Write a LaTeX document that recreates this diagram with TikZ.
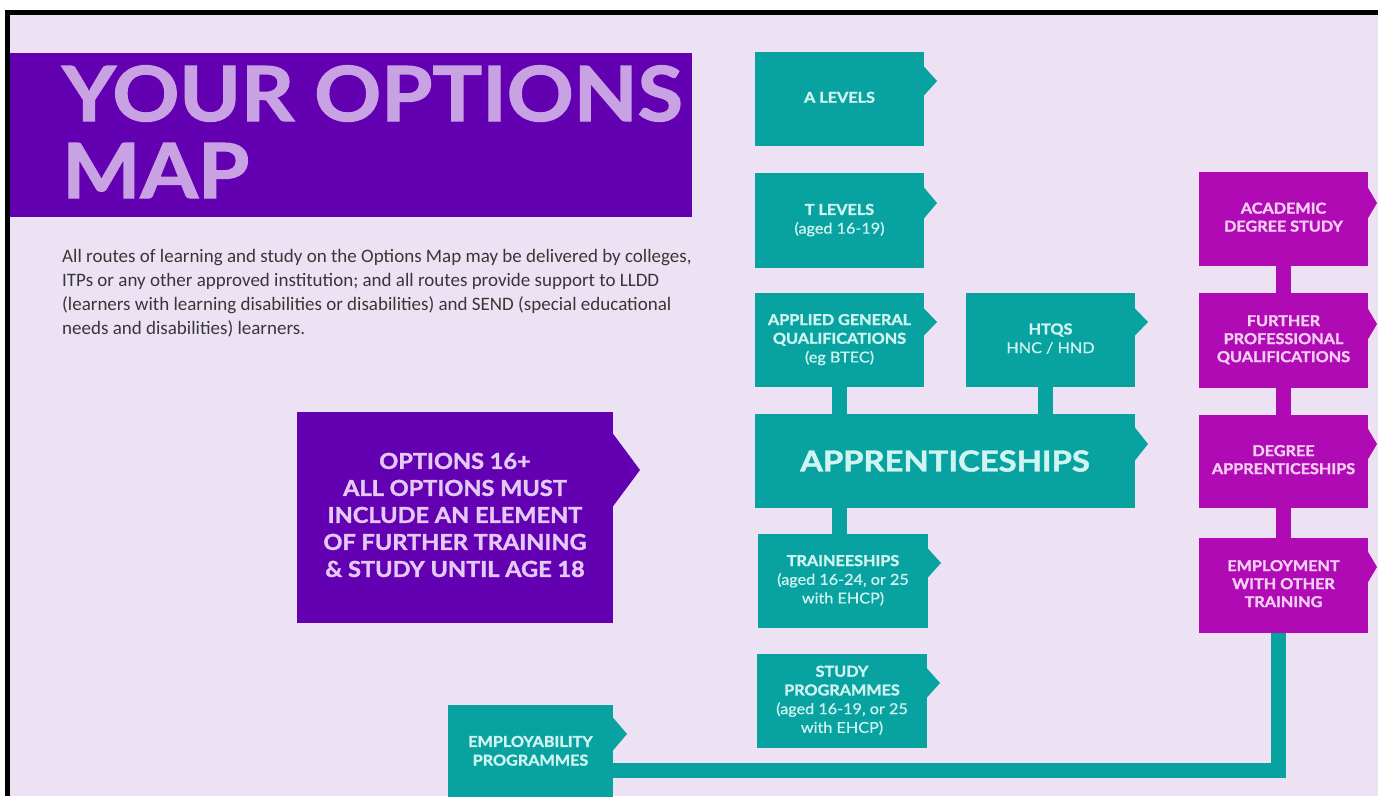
\documentclass[tikz,border=0pt]{standalone}
\usepackage{fontspec}
\setmainfont{Lato}
\newfontfamily\heavy{Lato}[BoldFeatures={FakeBold=1.5},UprightFeatures={FakeBold=0.6}]
\newfontfamily\calib{Carlito}
\definecolor{bg}{RGB}{236,226,244}
\definecolor{tealc}{RGB}{8,163,160}
\definecolor{tealtxt}{RGB}{208,244,241}
\definecolor{magc}{RGB}{176,10,180}
\definecolor{magtxt}{RGB}{246,206,243}
\definecolor{purp}{RGB}{99,0,178}
\definecolor{purptxt}{RGB}{200,162,226}
\definecolor{opttxt}{RGB}{228,200,245}
\definecolor{bodytxt}{RGB}{55,55,55}
% notch: colour, node, offset from top, half height, depth
\newcommand\notch[5]{\fill[#1] ([xshift=-0.5pt,yshift=-#3pt]#2.north east) -- ++(#5.5,#4) -- ++(-#5.5,#4) -- cycle;}
% horizontally stretched centred lines
\newcommand\sx[2]{\scalebox{#1}[1]{\begin{tabular}{@{}c@{}}#2\end{tabular}}}
\newcommand\lbl[1]{\sx{1.08}{#1}}
\newcommand\lite[1]{{\mdseries #1}}
\tikzset{
  boxbase/.style={inner sep=0pt, outer sep=0pt, align=center},
  tealbox/.style={boxbase, fill=tealc, text=tealtxt, font=\heavy\fontsize{15}{18.7}\selectfont\bfseries},
  magbox/.style={boxbase, fill=magc, text=magtxt, font=\heavy\fontsize{15}{18}\selectfont\bfseries},
  tealbar/.style={draw=tealc, line width=15pt},
  magbar/.style={draw=magc, line width=15pt},
  titletxt/.style={text=purptxt, font=\heavy\fontsize{76}{76}\selectfont\bfseries, inner sep=0pt, anchor=base west},
}
\begin{document}
\begin{tikzpicture}[x=1pt,y=-1pt]
\useasboundingbox (0,0) rectangle (1378,796);
\fill[white] (0,0) rectangle (1378,796);
\fill[black] (5,10) rectangle (1378,796);
\fill[bg] (10,15) rectangle (1378,796);

% title
\node[boxbase, fill=purp, minimum width=682pt, minimum height=164pt] (title) at (351,135) {};
\node[titletxt] (t1) at (62,121) {\scalebox{1.09}[1]{YOUR OPTIONS}};
\node[titletxt] (t2) at (62,198) {\scalebox{1.09}[1]{MAP}};

% paragraph
\node[anchor=north west, inner sep=0pt, align=left, text=bodytxt,
      font=\calib\fontsize{19}{24}\selectfont] (para) at (62,249)
{All routes of learning and study on the Options Map may be delivered by colleges,\\
ITPs or any other approved institution; and all routes provide support to LLDD\\
(learners with learning disabilities or disabilities) and SEND (special educational\\
needs and disabilities) learners.};

% options 16+
\node[boxbase, fill=purp, text=opttxt, minimum width=316pt, minimum height=211pt,
      font=\heavy\fontsize{22}{27}\selectfont\bfseries] (opt) at (455,517.5)
{\sx{1.07}{OPTIONS 16+\\ALL OPTIONS MUST\\INCLUDE AN ELEMENT\\OF FURTHER TRAINING\\\& STUDY UNTIL AGE 18}};
\notch{purp}{opt}{21}{37}{27}

% teal boxes
\node[tealbox, minimum width=169pt, minimum height=94pt] (alev) at (839.5,99) {\lbl{A LEVELS}};
\notch{tealc}{alev}{14}{15}{13}
\node[tealbox, minimum width=169pt, minimum height=95pt] (tlev) at (839.5,220.5) {\lbl{T LEVELS\\\lite{(aged 16-19)}}};
\notch{tealc}{tlev}{14}{16}{13}
\node[tealbox, minimum width=169pt, minimum height=94pt] (appl) at (839.5,340) {\lbl{APPLIED GENERAL\\QUALIFICATIONS\\\lite{(eg BTEC)}}};
\notch{tealc}{appl}{15}{14}{13}
\node[tealbox, minimum width=169pt, minimum height=94pt] (htqs) at (1050.5,340) {\lbl{HTQS\\\lite{HNC / HND}}};
\notch{tealc}{htqs}{15}{14}{13}
\node[boxbase, fill=tealc, text=tealtxt, minimum width=380pt, minimum height=94pt,
      font=\heavy\fontsize{29}{29}\selectfont\bfseries] (appr) at (945,461) {\scalebox{1.13}[1]{APPRENTICESHIPS}};
\notch{tealc}{appr}{13}{17}{13}
\node[tealbox, minimum width=170pt, minimum height=94pt] (train) at (843,581) {\lbl{TRAINEESHIPS\\\lite{(aged 16-24, or 25}\\\lite{with EHCP)}}};
\notch{tealc}{train}{14}{15}{13}
\node[tealbox, minimum width=170pt, minimum height=94pt] (study) at (842,701) {\lbl{STUDY\\PROGRAMMES\\\lite{(aged 16-19, or 25}\\\lite{with EHCP)}}};
\notch{tealc}{study}{14}{15}{13}
\node[tealbox, minimum width=165pt, minimum height=95pt] (emplo) at (530.5,752.5) {\lbl{EMPLOYABILITY\\PROGRAMMES}};
\notch{tealc}{emplo}{12}{17}{14}

% magenta boxes
\node[magbox, minimum width=169pt, minimum height=94pt] (acad) at (1283.5,219) {\lbl{ACADEMIC\\DEGREE STUDY}};
\notch{magc}{acad}{15}{16}{9}
\node[magbox, minimum width=169pt, minimum height=95pt] (furt) at (1283.5,340.5) {\lbl{FURTHER\\PROFESSIONAL\\QUALIFICATIONS}};
\notch{magc}{furt}{15}{16}{9}
\node[magbox, minimum width=169pt, minimum height=93pt] (degr) at (1283.5,461.5) {\lbl{DEGREE\\APPRENTICESHIPS}};
\notch{magc}{degr}{13}{16}{9}
\node[magbox, minimum width=169pt, minimum height=95pt] (empl) at (1283.5,585.5) {\lbl{EMPLOYMENT\\WITH OTHER\\TRAINING}};
\notch{magc}{empl}{13}{16}{9}

% connectors
\draw[tealbar] (appl.south) -- (appl.south |- appr.north);
\draw[tealbar] ([xshift=-5pt]htqs.south) -- ([xshift=-5pt]htqs.south |- appr.north);
\draw[tealbar] (appl.south |- appr.south) -- (appl.south |- train.north);
\draw[magbar] (acad.south) -- (furt.north);
\draw[magbar] (furt.south) -- (degr.north);
\draw[magbar] (degr.south) -- (empl.north);
\coordinate (bend) at (1278,770);
\draw[tealbar, line join=miter] (empl.south -| bend) -- (bend) -- (bend -| emplo.east);
\end{tikzpicture}
\end{document}
